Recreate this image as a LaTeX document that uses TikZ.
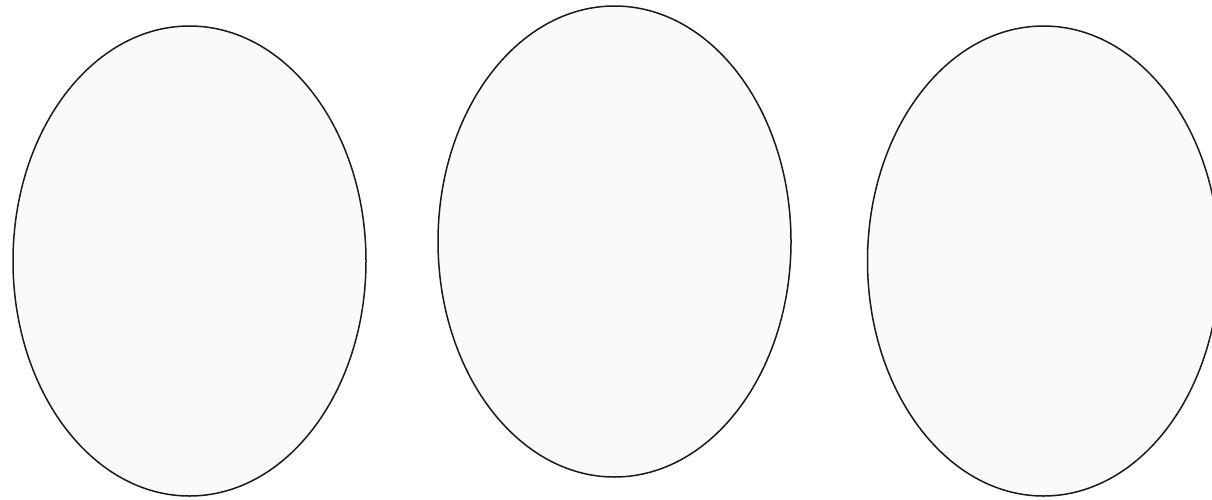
\documentclass[tikz,border=0pt]{standalone}
\definecolor{eggfill}{HTML}{FAFAFA}
\definecolor{eggline}{HTML}{1A1A1A}
\tikzset{egg/.style={draw=eggline, fill=eggfill, line width=1.5pt}}
\begin{document}
\begin{tikzpicture}[x=1pt,y=-1pt]
\useasboundingbox (0,0) rectangle (1212,499);
\begin{scope}
\clip (0,0) rectangle (1212,499);
\draw[egg] (189.5,261) ellipse [x radius=176.5, y radius=235];
\draw[egg] (614.5,241.5) ellipse [x radius=176.5, y radius=235.5];
\draw[egg] (1043.5,261) ellipse [x radius=176, y radius=235];
\end{scope}
\end{tikzpicture}
\end{document}
